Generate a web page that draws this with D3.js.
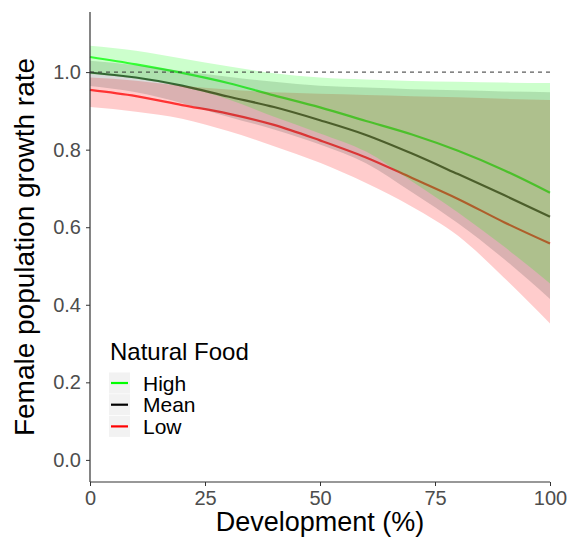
<!DOCTYPE html>
<html><head><meta charset="utf-8">
<script src="https://cdn.jsdelivr.net/npm/d3@7"></script>
<style>body{margin:0;background:#fff}svg{display:block}text{font-family:"Liberation Sans",Arial,sans-serif}</style>
</head><body><div id="chart"></div>
<script>
const devel = [0,10,20,30,40,50,60,70,80,90,100];
const highFit = [1.039,1.020,0.998,0.972,0.940,0.909,0.874,0.839,0.797,0.747,0.689];
const highLo  = [0.995,0.983,0.962,0.930,0.885,0.842,0.795,0.718,0.638,0.550,0.455];
const highHi  = [1.068,1.055,1.035,1.015,0.997,0.986,0.981,0.977,0.975,0.973,0.972];
const meanFit = [0.999,0.986,0.965,0.937,0.910,0.876,0.838,0.790,0.737,0.683,0.627];
const meanLo  = [0.964,0.948,0.920,0.885,0.852,0.813,0.765,0.690,0.610,0.518,0.415];
const meanHi  = [1.029,1.018,1.003,0.988,0.975,0.965,0.960,0.956,0.953,0.950,0.948];
const lowFit  = [0.954,0.938,0.915,0.893,0.864,0.824,0.780,0.727,0.673,0.613,0.558];
const lowLo   = [0.910,0.898,0.880,0.848,0.809,0.766,0.714,0.653,0.578,0.470,0.352];
const lowHi   = [0.986,0.978,0.965,0.955,0.948,0.944,0.941,0.938,0.935,0.931,0.928];
const seriesNames = ["High","Mean","Low"];
const xTicks = [0,25,50,75,100];
const yTicks = [0.0,0.2,0.4,0.6,0.8,1.0];

const W=569,H=546;
const svg=d3.select("#chart").append("svg").attr("width",W).attr("height",H);
const x=d3.scaleLinear().domain([0,100]).range([90,550]);
const y=d3.scaleLinear().domain([-0.057,1.155]).range([482,12]);

const series=[
 {name:"High",fit:highFit,lo:highLo,hi:highHi,line:"#00ff00",fill:"#00ff00"},
 {name:"Mean",fit:meanFit,lo:meanLo,hi:meanHi,line:"#000000",fill:"#444444"},
 {name:"Low",fit:lowFit,lo:lowLo,hi:lowHi,line:"#ff0000",fill:"#ff0000"}
];
const curve=d3.curveMonotoneX;
const line=d3.line().x((d,i)=>x(devel[i])).y(d=>y(d)).curve(curve);
// lines first
series.forEach(s=>{
  svg.append("path").attr("d",line(s.fit)).attr("fill","none")
    .attr("stroke",s.line).attr("stroke-opacity",0.75).attr("stroke-width",2.2);
});
// ribbons over (Low, Mean, High)
series.slice().reverse().forEach(s=>{
  const area=d3.area().x((d,i)=>x(devel[i])).y0((d,i)=>y(s.lo[i])).y1((d,i)=>y(s.hi[i])).curve(curve);
  svg.append("path").attr("d",area(devel)).attr("fill",s.fill).attr("fill-opacity",0.2);
});
// dashed reference
svg.append("line").attr("x1",x(0)).attr("x2",x(100)).attr("y1",y(1)).attr("y2",y(1))
  .attr("stroke","#333").attr("stroke-width",1).attr("stroke-dasharray","4,4");

// axes
const xa=svg.append("g").attr("transform","translate(0,482)")
  .call(d3.axisBottom(x).tickValues(xTicks).tickFormat(d3.format("d")).tickSize(4).tickPadding(5));
const ya=svg.append("g").attr("transform","translate(90,0)")
  .call(d3.axisLeft(y).tickValues(yTicks).tickFormat(d3.format(".1f")).tickSize(4).tickPadding(5));
[xa,ya].forEach(a=>{
  a.select(".domain").remove();
  a.selectAll(".tick line").attr("stroke","#333");
  a.selectAll(".tick text").attr("fill","#4d4d4d").style("font-size","20px");
});
svg.append("line").attr("x1",90).attr("x2",90).attr("y1",12).attr("y2",482).attr("stroke","#333").attr("stroke-width",1.2);
svg.append("line").attr("x1",90).attr("x2",550).attr("y1",482).attr("y2",482).attr("stroke","#333").attr("stroke-width",1.2);

svg.append("text").attr("x",320).attr("y",531).attr("text-anchor","middle")
  .style("font-size","27px").attr("fill","#000").text("Development (%)");
svg.append("text").attr("transform","translate(34,247) rotate(-90)").attr("text-anchor","middle")
  .style("font-size","28px").attr("fill","#000").text("Female population growth rate");

// legend
const lg=svg.append("g");
lg.append("text").attr("x",110).attr("y",360).style("font-size","24px").attr("fill","#000").text("Natural Food");
series.forEach((s,i)=>{
  const cy=383+i*21.7;
  lg.append("rect").attr("x",109).attr("y",cy-10.5).attr("width",21).attr("height",21).attr("fill","#f2f2f2");
  lg.append("line").attr("x1",111).attr("x2",128).attr("y1",cy).attr("y2",cy).attr("stroke",s.line).attr("stroke-width",2.2);
  lg.append("text").attr("x",143).attr("y",cy+7.5).style("font-size","21px").attr("fill","#000").text(s.name);
});
</script></body></html>
